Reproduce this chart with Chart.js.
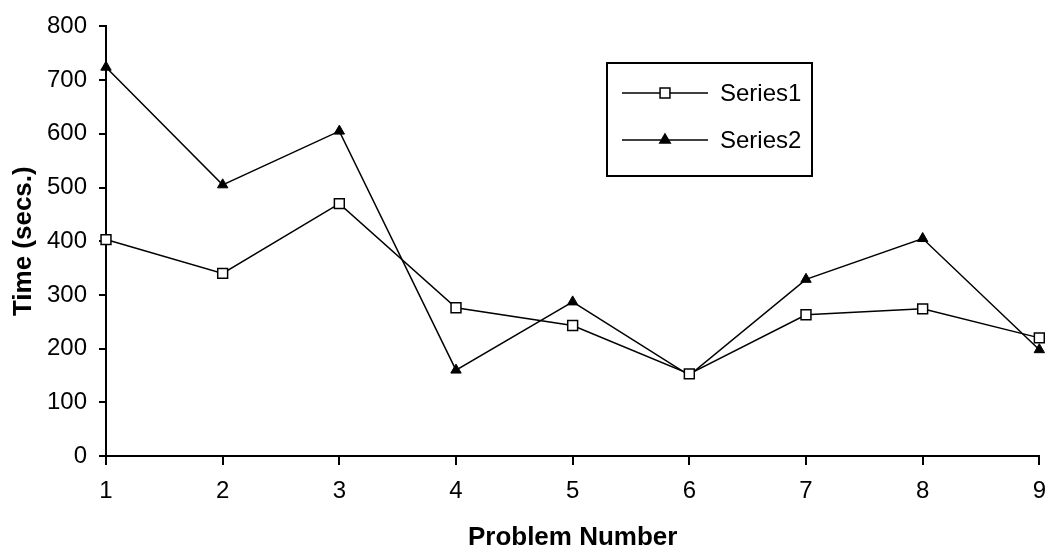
<!DOCTYPE html>
<html>
<head>
<meta charset="utf-8">
<script src="https://cdn.jsdelivr.net/npm/chart.js@4/dist/chart.umd.min.js"></script>
<style>
  html, body { margin: 0; padding: 0; background: #fff; }
  #wrap { width: 1058px; height: 556px; }
</style>
</head>
<body>
<div id="wrap"><canvas id="chart" width="1058" height="556"></canvas></div>
<script>
const problems = ['1', '2', '3', '4', '5', '6', '7', '8', '9'];
const series1 = [403, 340, 470, 276, 243, 153, 263, 274, 220];
const series2 = [724, 505, 605, 160, 287, 150, 329, 405, 198];
const yTicks = [0, 100, 200, 300, 400, 500, 600, 700, 800];

const FONT = "'Liberation Sans', Arial, sans-serif";

// legend box drawn inside the plot, like the old spreadsheet chart
const boxLegend = {
    id: 'boxLegend',
    afterDraw(chart) {
        const ctx = chart.ctx;
        ctx.save();
        ctx.strokeStyle = '#000';
        ctx.lineWidth = 2;
        ctx.strokeRect(607, 63, 205, 113);
        const rows = [93, 140];
        chart.data.datasets.forEach(function (ds, i) {
            const y = rows[i];
            ctx.strokeStyle = '#000';
            ctx.lineWidth = 1.5;
            ctx.beginPath();
            ctx.moveTo(622, y);
            ctx.lineTo(708, y);
            ctx.stroke();
            ctx.fillStyle = ds.pointBackgroundColor;
            ctx.strokeStyle = '#000';
            ctx.lineWidth = 1.5;
            Chart.helpers.drawPoint(ctx, {
                pointStyle: ds.pointStyle,
                radius: ds.pointRadius,
                borderWidth: 1.5
            }, 665, y);
            ctx.fillStyle = '#000';
            ctx.font = '24px ' + FONT;
            ctx.textBaseline = 'middle';
            ctx.fillText(ds.label, 720, y + 1);
        });
        ctx.restore();
    }
};

const ctx = document.getElementById('chart').getContext('2d');
const chart = new Chart(ctx, {
    type: 'line',
    data: {
        labels: problems,
        datasets: [{
            label: 'Series1',
            data: series1,
            borderColor: '#000',
            borderWidth: 1.5,
            pointStyle: 'rect',
            pointRadius: 7,
            pointBackgroundColor: '#fff',
            pointBorderColor: '#000',
            pointBorderWidth: 1.5,
            tension: 0
        }, {
            label: 'Series2',
            data: series2,
            borderColor: '#000',
            borderWidth: 1.5,
            pointStyle: 'triangle',
            pointRadius: 6,
            pointBackgroundColor: '#000',
            pointBorderColor: '#000',
            pointBorderWidth: 1,
            tension: 0
        }]
    },
    options: {
        responsive: false,
        animation: false,
        layout: { padding: { top: 20, right: 10, left: 0, bottom: 0 } },
        plugins: {
            legend: { display: false },
            tooltip: { enabled: false }
        },
        scales: {
            x: {
                offset: false,
                grid: { display: true, drawOnChartArea: false, drawTicks: true, tickLength: 9, color: '#000', lineWidth: 2 },
                border: { display: true, color: '#000', width: 2 },
                ticks: { color: '#000', font: { family: FONT, size: 24 }, padding: 12, maxRotation: 0 },
                title: { display: true, text: 'Problem Number', color: '#000',
                         font: { family: FONT, size: 26, weight: 'bold' }, padding: { top: 0, bottom: 3 } },
                afterFit(scale) { scale.height = 100; }
            },
            y: {
                min: 0,
                max: 800,
                afterBuildTicks(scale) { scale.ticks = yTicks.map(v => ({ value: v })); },
                grid: { display: true, drawOnChartArea: false, drawTicks: true, tickLength: 7, color: '#000', lineWidth: 2 },
                border: { display: true, color: '#000', width: 2 },
                ticks: { color: '#000', font: { family: FONT, size: 24 }, padding: 12 },
                title: { display: true, text: 'Time (secs.)', color: '#000',
                         font: { family: FONT, size: 26, weight: 'bold' }, padding: { top: 8, bottom: 0 } },
                afterFit(scale) { scale.width = 106; }
            }
        }
    },
    plugins: [boxLegend]
});
</script>
</body>
</html>
